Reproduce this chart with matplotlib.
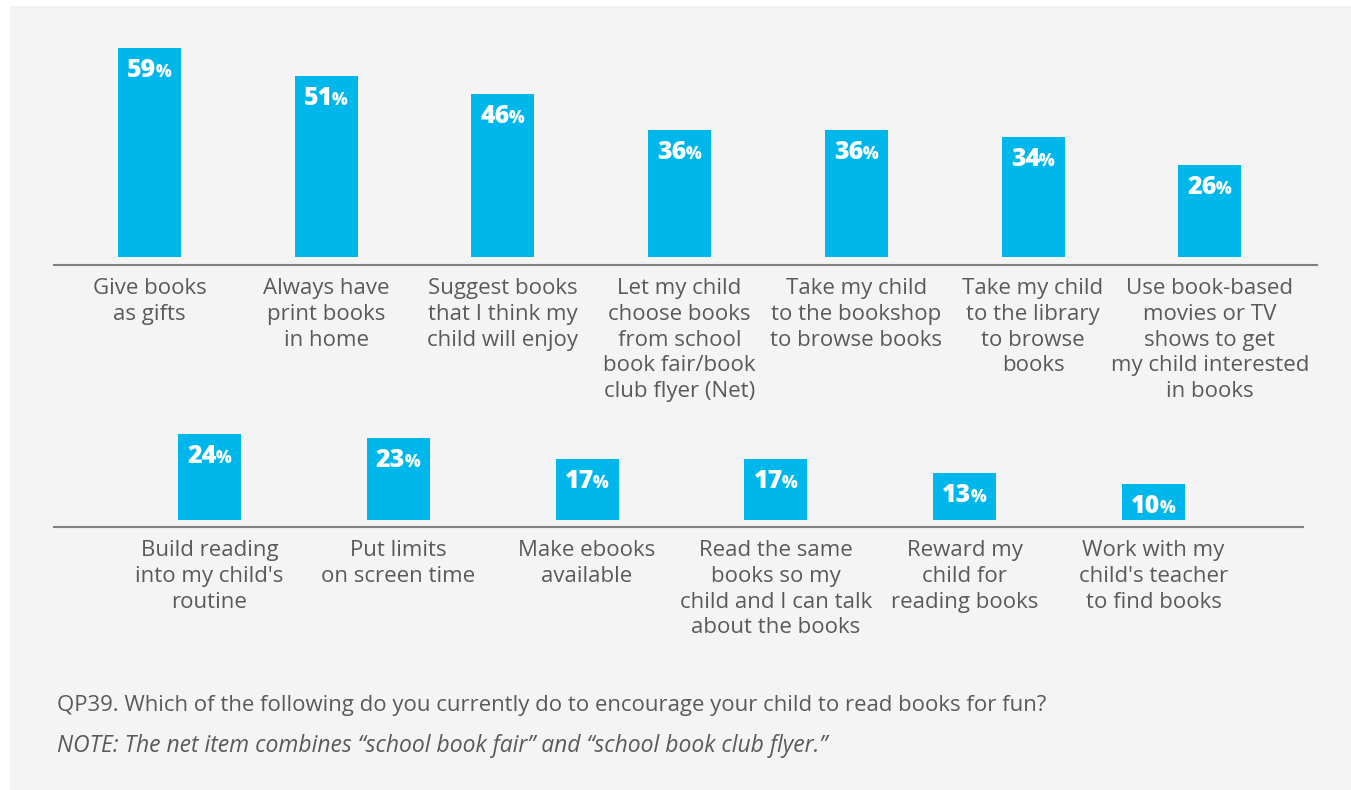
import matplotlib
matplotlib.use("Agg")
import matplotlib.pyplot as plt
from matplotlib.patches import Rectangle
import matplotlib.transforms as mtransforms

plt.rcParams['font.family'] = ['Open Sans', 'DejaVu Sans']

top_labels = ["Give books\nas gifts", "Always have\nprint books\nin home",
              "Suggest books\nthat I think my\nchild will enjoy",
              "Let my child\nchoose books\nfrom school\nbook fair/book\nclub flyer (Net)",
              "Take my child\nto the bookshop\nto browse books",
              "Take my child\nto the library\nto browse\nbooks",
              "Use book-based\nmovies or TV\nshows to get\nmy child interested\nin books"]
top_values = [59, 51, 46, 36, 36, 34, 26]

bottom_labels = ["Build reading\ninto my child's\nroutine", "Put limits\non screen time",
                 "Make ebooks\navailable",
                 "Read the same\nbooks so my\nchild and I can talk\nabout the books",
                 "Reward my\nchild for\nreading books",
                 "Work with my\nchild's teacher\nto find books"]
bottom_values = [24, 23, 17, 17, 13, 10]

question = "QP39. Which of the following do you currently do to encourage your child to read books for fun?"
note = "NOTE: The net item combines \u201cschool book fair\u201d and \u201cschool book club flyer.\u201d"

BAR = "#00b7ec"
BG = "#f4f4f4"
TXT = "#5a5a5a"
LINE = "#808080"

W, H = 1351, 790
fig = plt.figure(figsize=(W / 100, H / 100), dpi=100, facecolor="white")
fig.patches.append(Rectangle((10 / W, 0), (W - 10) / W, (H - 6) / H,
                             transform=fig.transFigure, facecolor=BG, edgecolor="none", zorder=-5))


def px_axes(left, right, top, bottom):
    return fig.add_axes([left / W, 1 - bottom / H, (right - left) / W, (bottom - top) / H])


def draw_row(ax, labels, values, c0, step, line_l, line_r, base_px, gap_px, scale, top_px):
    n = len(values)
    x = list(range(n))
    ax.set_xlim((line_l - c0) / step, (line_r - c0) / step)
    ax.set_ylim(-gap_px / scale, (base_px - top_px) / scale - gap_px / scale)
    ax.bar(x, values, width=63 / step, color=BAR, zorder=2)
    ax.set_facecolor("none")
    for s in ["top", "right", "left"]:
        ax.spines[s].set_visible(False)
    ax.spines["bottom"].set_color(LINE)
    ax.spines["bottom"].set_linewidth(1.5)
    ax.set_yticks([])
    ax.set_xticks(x)
    ax.set_xticklabels(labels, fontsize=16, color=TXT, linespacing=1.30)
    ax.tick_params(axis="x", length=0, pad=9.3)
    for xi, v in zip(x, values):
        t1 = mtransforms.offset_copy(ax.transData, fig=fig, x=7, y=-29, units="dots")
        t2 = mtransforms.offset_copy(ax.transData, fig=fig, x=6, y=-29, units="dots")
        ax.text(xi, v, f"{v}", transform=t1, ha="right", va="baseline",
                fontsize=18, fontweight="heavy", color="white", zorder=3)
        ax.text(xi, v, "%", transform=t2, ha="left", va="baseline",
                fontsize=12, fontweight="heavy", color="white", zorder=3)


ax1 = px_axes(54, 1317, 30, 265)
draw_row(ax1, top_labels, top_values, 149.5, 176.7, 54, 1317, 265, 8, 3.54, 30)

ax2 = px_axes(54, 1303, 400, 527)
draw_row(ax2, bottom_labels, bottom_values, 209.5, 188.8, 54, 1303, 527, 7.5, 3.55, 400)

fig.text(57 / W, 1 - 711 / H, question, fontsize=15.9, color=TXT, va="baseline", ha="left")
fig.text(57 / W, 1 - 752 / H, note, fontsize=16.5, color=TXT, va="baseline", ha="left",
         style="italic")

fig.savefig("out.png", dpi=100, facecolor="white")
